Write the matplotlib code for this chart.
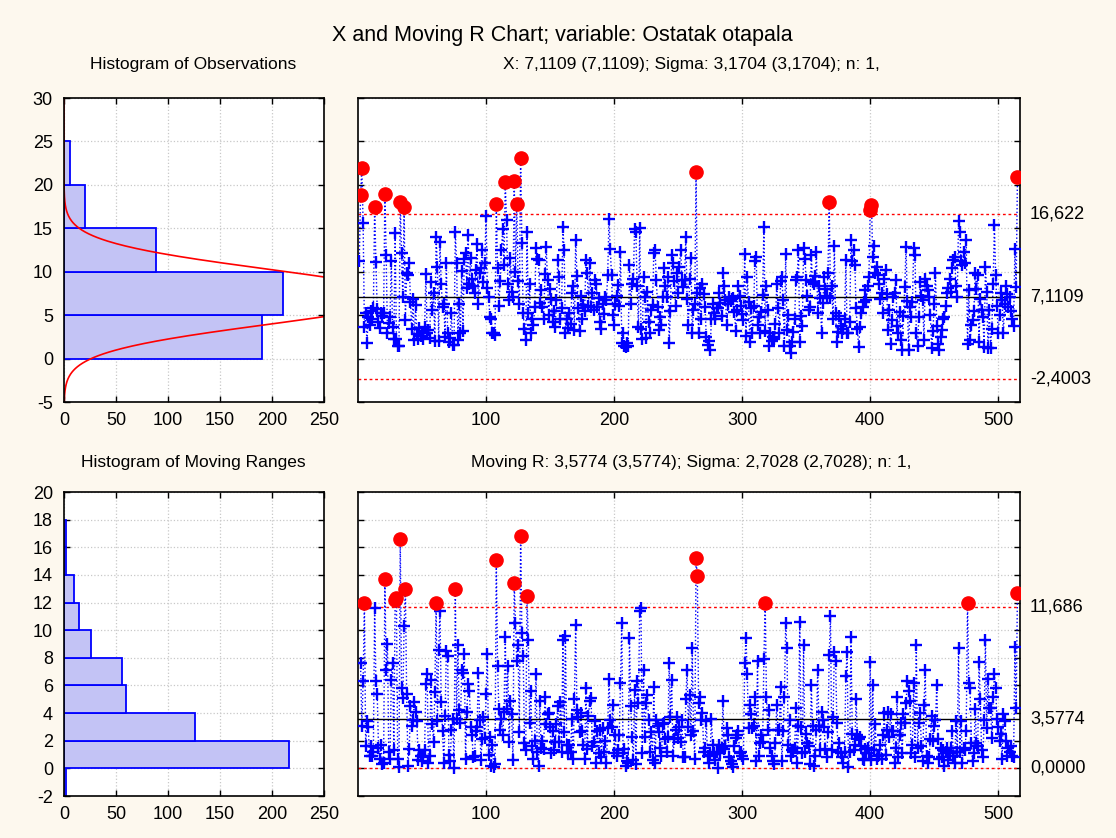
import numpy as np
import matplotlib
matplotlib.use('Agg')
from matplotlib import pyplot as plt
from matplotlib.transforms import blended_transform_factory

plt.rcParams['font.family'] = ['Liberation Sans', 'DejaVu Sans']
plt.rcParams['axes.unicode_minus'] = False

#%% Data

x_obs = np.array([
    11.2, 18.8, 21.9, 15.6, 3.6, 5.2, 1.8, 4.8, 3.9, 5.5,
    4.6, 5.8, 17.4, 11.1, 5.7, 4.2, 3.5, 5.2, 4.9, 5.3,
    19.0, 11.9, 2.9, 4.1, 4.8, 11.2, 3.6, 2.3, 14.5, 2.2,
    1.5, 1.4, 18.0, 12.2, 7.1, 17.4, 4.4, 9.8, 9.6, 11.0,
    6.5, 3.4, 6.9, 2.1, 6.2, 2.8, 2.2, 3.5, 2.6, 3.1,
    2.3, 3.6, 9.7, 2.9, 3.3, 2.4, 8.8, 5.6, 7.5, 2.0,
    14.0, 10.6, 2.0, 13.4, 8.6, 5.9, 6.3, 2.5, 11.0, 2.9,
    1.9, 2.4, 5.2, 1.6, 1.6, 14.6, 11.0, 2.1, 6.3, 3.0,
    10.1, 3.2, 11.5, 12.2, 8.1, 14.2, 8.6, 11.6, 9.2, 8.4,
    7.5, 10.2, 13.2, 6.3, 9.8, 10.4, 12.5, 8.8, 11.0, 16.4,
    8.1, 7.1, 4.8, 4.6, 2.9, 3.0, 2.7, 17.8, 10.4, 6.1,
    8.9, 12.5, 14.9, 10.8, 20.3, 16.0, 8.6, 6.7, 11.6, 7.7,
    7.1, 20.5, 10.0, 17.8, 8.9, 6.3, 23.1, 13.3, 5.2, 3.4,
    2.1, 14.6, 5.3, 8.6, 3.0, 4.6, 3.9, 5.9, 12.7, 11.5,
    11.3, 6.4, 7.9, 5.9, 4.5, 9.7, 12.9, 9.0, 5.0, 8.0,
    6.9, 4.2, 5.5, 3.6, 6.8, 11.3, 9.4, 4.6, 5.8, 15.1,
    12.5, 2.9, 4.6, 3.5, 5.2, 4.0, 7.6, 8.3, 3.3, 13.7,
    9.5, 5.8, 3.2, 7.2, 4.5, 6.2, 5.5, 11.3, 9.9, 6.1,
    11.0, 5.9, 7.5, 5.6, 9.0, 8.6, 5.9, 7.0, 4.2, 3.4,
    6.3, 5.1, 7.1, 6.7, 9.6, 16.1, 12.6, 9.6, 5.0, 3.9,
    6.3, 7.2, 8.5, 6.1, 12.3, 1.8, 2.9, 1.5, 1.3, 1.8,
    1.4, 10.8, 6.3, 8.6, 9.2, 14.9, 14.6, 8.3, 3.6, 15.0,
    3.4, 2.3, 9.4, 7.1, 2.4, 7.7, 4.2, 3.0, 5.6, 6.2,
    12.1, 12.5, 9.0, 5.9, 3.3, 4.8, 3.9, 7.1, 10.4, 8.3,
    7.1, 9.4, 1.8, 5.5, 11.9, 11.0, 8.9, 6.1, 9.8, 7.6,
    10.6, 12.5, 9.0, 8.2, 9.0, 14.0, 6.9, 3.9, 9.2, 11.6,
    2.9, 5.6, 6.3, 21.5, 7.6, 2.9, 8.1, 4.6, 8.6, 7.4,
    5.9, 2.5, 1.6, 2.0, 1.0, 4.6, 6.3, 5.2, 4.6, 5.8,
    5.8, 7.5, 6.4, 4.9, 9.8, 8.4, 6.8, 3.9, 6.3, 7.1,
    6.6, 6.9, 7.0, 5.4, 3.2, 5.6, 8.3, 7.2, 6.0, 5.1,
    4.4, 12.0, 2.6, 9.4, 6.5, 1.9, 5.8, 2.9, 6.0, 11.2,
    11.7, 3.9, 4.8, 3.0, 5.4, 7.3, 15.2, 3.2, 8.4, 5.6,
    1.4, 2.9, 2.0, 2.5, 2.2, 4.0, 8.6, 5.8, 3.0, 8.9,
    9.4, 6.7, 1.5, 12.0, 3.3, 5.0, 1.5, 0.6, 1.9, 3.1,
    4.6, 9.0, 9.4, 12.5, 1.9, 4.9, 3.8, 12.7, 11.5, 9.0,
    7.2, 5.6, 5.9, 11.9, 8.8, 8.6, 9.5, 12.3, 5.2, 8.3,
    7.0, 2.9, 6.4, 9.4, 8.0, 7.2, 9.8, 18.0, 7.0, 8.3,
    4.6, 13.0, 5.2, 1.9, 3.1, 4.9, 3.8, 3.0, 3.4, 4.6,
    11.3, 2.9, 3.0, 4.2, 13.7, 11.2, 12.5, 10.8, 5.8, 3.4,
    1.3, 3.6, 5.2, 5.9, 6.5, 7.9, 6.8, 8.3, 9.4, 17.1,
    17.7, 11.7, 13.0, 9.8, 10.5, 9.6, 8.6, 6.9, 7.6, 5.2,
    9.2, 10.2, 7.4, 3.3, 5.6, 1.7, 4.4, 7.1, 7.5, 9.0,
    3.8, 3.0, 5.4, 2.1, 1.0, 4.9, 8.2, 12.9, 6.6, 1.0,
    5.9, 4.8, 6.5, 12.7, 11.9, 3.0, 1.5, 4.8, 8.8, 7.2,
    6.7, 2.1, 9.2, 8.3, 7.9, 7.1, 5.0, 1.2, 3.2, 6.3,
    9.8, 3.8, 1.7, 1.0, 2.5, 3.3, 4.6, 4.8, 6.0, 7.5,
    8.1, 9.2, 7.7, 10.4, 11.3, 11.7, 8.3, 7.1, 15.8, 14.6,
    11.2, 10.8, 12.3, 11.0, 13.7, 1.7, 7.9, 2.1, 3.9, 4.4,
    5.5, 9.8, 8.0, 9.6, 1.9, 6.9, 5.6, 4.8, 1.3, 10.6,
    7.7, 1.2, 5.6, 1.2, 3.4, 8.6, 15.4, 9.6, 6.0, 3.0,
    5.0, 7.5, 6.8, 2.9, 6.3, 8.3, 7.4, 5.9, 7.1, 5.5,
    4.6, 3.8, 12.6, 8.2, 20.9,
])

X_MEAN, X_SIGMA, X_UCL, X_LCL = 7.1109, 3.1704, 16.622, -2.4003
MR_MEAN, MR_SIGMA, MR_UCL, MR_LCL = 3.5774, 2.7028, 11.686, 0.0

x_limit_vals = [X_UCL, X_MEAN, X_LCL]
x_limit_txt = ['16,622', '7,1109', '-2,4003']
mr_limit_vals = [MR_UCL, MR_MEAN, MR_LCL]
mr_limit_txt = ['11,686', '3,5774', '0,0000']

hist_x_edges = np.array([0, 5, 10, 15, 20, 25])
hist_x_counts = np.array([190, 211, 88, 20, 6])
hist_mr_edges = np.arange(-2, 20, 2)
hist_mr_counts = np.array([2, 216, 126, 60, 56, 26, 14, 10, 2, 2])

TITLE = 'X and Moving R Chart; variable: Ostatak otapala'
SUB_X = 'X: 7,1109 (7,1109); Sigma: 3,1704 (3,1704); n: 1,'
SUB_MR = 'Moving R: 3,5774 (3,5774); Sigma: 2,7028 (2,7028); n: 1,'

#%% Derived

idx = np.arange(1, len(x_obs) + 1)
mr = np.abs(np.diff(x_obs))
idx_mr = idx[1:]

#%% Figure

BG = '#fdf8ee'
BAR_FC = '#c3c3f5'
W, H = 1116, 838
fig = plt.figure(figsize=(W / 100, H / 100), dpi=100, facecolor=BG)


def px_axes(l, t, r, b):
    return fig.add_axes([l / W, 1 - b / H, (r - l) / W, (b - t) / H])


def style(ax):
    ax.set_facecolor('white')
    ax.tick_params(direction='in', top=True, right=True, labelsize=13,
                   length=4, width=1)
    ax.tick_params(axis='x', pad=7)
    ax.tick_params(axis='y', pad=8)
    ax.grid(True, color='#c8c8c8', ls=':', lw=0.9)
    ax.set_axisbelow(True)
    for s in ax.spines.values():
        s.set_linewidth(1.2)


ax_hx = px_axes(64, 98, 324, 402)
ax_x = px_axes(358, 98, 1020, 402)
ax_hm = px_axes(64, 492, 324, 796)
ax_m = px_axes(358, 492, 1020, 796)

# histogram of observations
style(ax_hx)
ax_hx.barh(hist_x_edges[:-1], hist_x_counts, height=np.diff(hist_x_edges),
           align='edge', color=BAR_FC, edgecolor='#0000ff', lw=1.3)
yy = np.linspace(-5, 30, 500)
curve = len(x_obs) * 5 * np.exp(-0.5 * ((yy - X_MEAN) / X_SIGMA) ** 2) / (X_SIGMA * np.sqrt(2 * np.pi))
ax_hx.plot(curve, yy, color='red', lw=1.2)
ax_hx.set_xlim(0, 250)
ax_hx.set_ylim(-5, 30)
ax_hx.set_xticks(np.arange(0, 251, 50))
ax_hx.set_yticks(np.arange(-5, 31, 5))

# histogram of moving ranges
style(ax_hm)
ax_hm.barh(hist_mr_edges[:-1], hist_mr_counts, height=np.diff(hist_mr_edges),
           align='edge', color=BAR_FC, edgecolor='#0000ff', lw=1.3)
ax_hm.set_xlim(0, 250)
ax_hm.set_ylim(-2, 20)
ax_hm.set_xticks(np.arange(0, 251, 50))
ax_hm.set_yticks(np.arange(-2, 21, 2))


def control(ax, xs, ys, ucl, cl, lcl, vals, txts):
    style(ax)
    ax.plot(xs, ys, ls=':', color='#0000ff', lw=1.0, zorder=2)
    bad = (ys > ucl) | (ys < lcl)
    ax.plot(xs[~bad], ys[~bad], '+', color='#0000ff', ms=9, mew=1.7, zorder=3)
    ax.plot(xs[bad], ys[bad], 'o', color='#ff0000', ms=9.5, zorder=4)
    ax.axhline(cl, color='black', lw=1.0, zorder=2.5)
    ax.axhline(ucl, color='red', lw=1.0, ls=(0, (2, 2)), zorder=2.5)
    ax.axhline(lcl, color='red', lw=1.0, ls=(0, (2, 2)), zorder=2.5)
    ax.set_xlim(0, 517)
    ax.set_xticks(np.arange(100, 501, 100))
    ax.tick_params(labelleft=False)
    tr = blended_transform_factory(ax.transAxes, ax.transData)
    for v, t in zip(vals, txts):
        ax.text(1.015, v, t, transform=tr, ha='left', va='center', fontsize=13)


control(ax_x, idx, x_obs, X_UCL, X_MEAN, X_LCL, x_limit_vals, x_limit_txt)
ax_x.set_ylim(-5, 30)
ax_x.set_yticks(np.arange(-5, 31, 5))

control(ax_m, idx_mr, mr, MR_UCL, MR_MEAN, MR_LCL, mr_limit_vals, mr_limit_txt)
ax_m.set_ylim(-2, 20)
ax_m.set_yticks(np.arange(-2, 21, 2))

# texts
fig.text(562 / W, 1 - 35 / H, TITLE, ha='center', va='center', fontsize=15.5)
fig.text(193 / W, 1 - 64 / H, 'Histogram of Observations', ha='center', va='center', fontsize=12.5)
fig.text(691 / W, 1 - 64 / H, SUB_X, ha='center', va='center', fontsize=12.5)
fig.text(193 / W, 1 - 462 / H, 'Histogram of Moving Ranges', ha='center', va='center', fontsize=12.5)
fig.text(691 / W, 1 - 462 / H, SUB_MR, ha='center', va='center', fontsize=12.5)

plt.savefig('out.png', dpi=100, facecolor=BG)
